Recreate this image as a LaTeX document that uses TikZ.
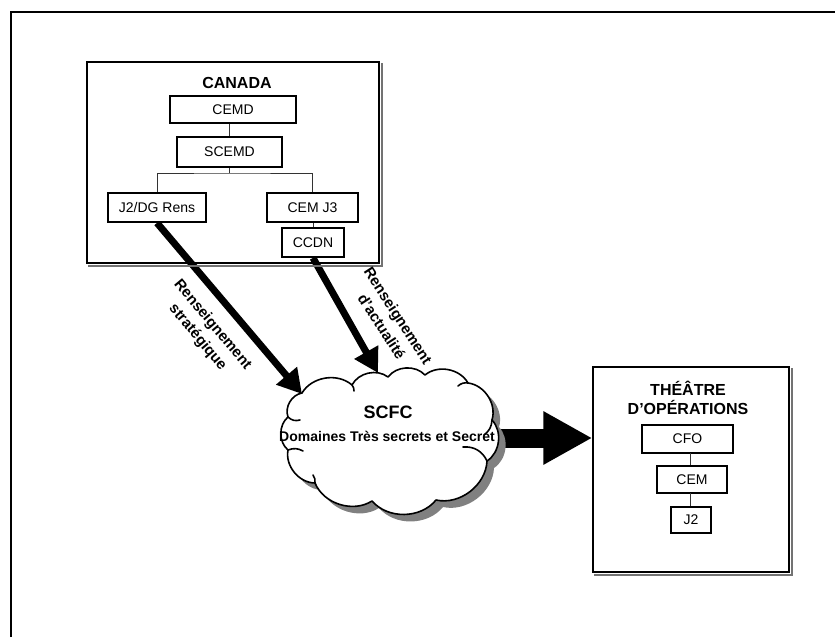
\documentclass[tikz,border=0pt]{standalone}
\usepackage{fontspec}
\setmainfont{Liberation Sans}
\usetikzlibrary{arrows.meta,calc,backgrounds}

% outline of the SCFC cloud, traced bump by bump (clockwise)
\newcommand{\scfcoutline}{%
  (302,393) to[puffbend] (352,385) to[puffbend] (388,377)
  to[puffbend] (425,375) to[puffbend] (468,383) to[puffbend] (492,420)
  to[puffbend] (487,461) to[puffbend] (436,500) to[puffbend] (372,501)
  to[puffbend] (315,483) to[puffbend] (288,450) to[puffbend] (288,417)
  to[puffbend] (302,393) -- cycle}

\begin{document}
\begin{tikzpicture}[x=1pt,y=-1pt,
  orgbox/.style={draw, line width=1.8pt, fill=white, inner sep=0pt,
    font=\fontsize{14}{16}\selectfont},
  panel/.style={draw, line width=1.4pt, inner sep=0pt},
  panelshade/.style={draw=black!55, line width=1.6pt},
  link/.style={line width=0.8pt, draw=black!80},
  feed/.style={line width=7pt, -{Triangle[length=24pt,width=26pt]}},
  bigfeed/.style={line width=19pt, -{Triangle[length=49pt,width=50pt]}},
  tag/.style={font=\bfseries\fontsize{15}{19.5}\selectfont, align=center, inner sep=0pt},
  ttl/.style={font=\bfseries\fontsize{16}{18}\selectfont, inner sep=0pt},
  puffbend/.style={bend left=50, looseness=0.97},
  puffline/.style={line width=1.6pt, line cap=round},
]
\useasboundingbox (0,0) rectangle (835,637);

% outer frame (open on the right and at the bottom)
\draw[line width=2pt] (11,637) -- (11,12) -- (835,12);

% ---------- CANADA panel ----------
\node[panel, minimum width=292pt, minimum height=201pt] (canada) at (233,162.5) {};
\draw[panelshade] ($(canada.north east)+(2,2)$) -- ($(canada.south east)+(2,2)$)
  -- ($(canada.south west)+(2,2)$);
\node[ttl] (canadat) at (237,82.5) {CANADA};

\node[orgbox, minimum width=126pt, minimum height=27pt] (cemd) at (233,109.5) {CEMD};
\node[orgbox, minimum width=105pt, minimum height=30pt] (scemd) at (229.5,152) {SCEMD};
\node[orgbox, minimum width=98pt, minimum height=29pt] (j2dg) at (157,207.5) {J2/DG Rens};
\node[orgbox, minimum width=91pt, minimum height=29pt] (cemj3) at (312.5,207.5) {CEM J3};
\node[orgbox, minimum width=62pt, minimum height=29pt] (ccdn) at (313,242.5) {CCDN};

\coordinate (bus) at (229.5,173);
\draw[link] (cemd.south -| scemd.north) -- (scemd.north);
\draw[link] (scemd.south) -- (bus);
\draw[link] (j2dg.north) |- (bus) -| (cemj3.north);
\draw[link] (cemj3.south -| ccdn.north) -- (ccdn.north);

% ---------- THEATRE panel ----------
\node[panel, minimum width=196pt, minimum height=205pt] (theatre) at (691,469.5) {};
\draw[panelshade] ($(theatre.north east)+(2,2)$) -- ($(theatre.south east)+(2,2)$)
  -- ($(theatre.south west)+(2,2)$);
\node[ttl, anchor=base] (theatret1) at (688,395) {THÉÂTRE};
\node[ttl, anchor=base] (theatret2) at (688,414) {D’OPÉRATIONS};

\node[orgbox, minimum width=91pt, minimum height=28pt] (cfo) at (687.5,439) {CFO};
\node[orgbox, minimum width=70pt, minimum height=27pt] (cem) at (692,479.5) {CEM};
\node[orgbox, minimum width=40pt, minimum height=26pt] (j2) at (691,520) {J2};
\draw[link] (690,453) coordinate (cfob) -- (cfob |- cem.north);
\draw[link] (690,493) coordinate (cemb) -- (cemb |- j2.north);

% ---------- SCFC cloud ----------
\coordinate (cloudc) at (390,438);
\coordinate (tipA) at (302,394);
\coordinate (tipB) at (378,373);
\begin{scope}[on background layer]
  \draw[bigfeed] (cloudc) -- (cloudc -| theatre.west);
  \draw[feed] (j2dg.south) -- (tipA);
  \draw[feed] (ccdn.south) -- (tipB);
\end{scope}

\begin{scope}[shift={(7,7)}]
  \fill[black!50] \scfcoutline;
\end{scope}
\filldraw[puffline, fill=white, line join=round] \scfcoutline;
% inner folds of the cloud
\draw[puffline] (288,417) to[bend right=30] (300,420);
\draw[puffline] (288,450) to[bend left=25] (303,451);
\draw[puffline] (315,483) to[bend right=20] (313,475);
\draw[puffline] (487,461) to[bend right=35] (463,447);
\draw[puffline] (492,420) to[bend left=25] (484,435);
\draw[puffline] (468,383) to[bend right=25] (458,386);
\draw[puffline] (352,385) to[bend left=20] (354,391);

\node[font=\bfseries\fontsize{18}{20}\selectfont, inner sep=0pt] (scfct) at (388,412) {SCFC};
\node[font=\bfseries\fontsize{14}{16}\selectfont, inner sep=0pt] (scfcs) at (387,436)
  {Domaines Très secrets et Secret};

% ---------- flow labels ----------
\node[tag, rotate=-50] (lblA) at (205,331) {Renseignement\\stratégique};
\node[tag, rotate=-57] (lblB) at (390,321) {Renseignement\\d’actualité};

\end{tikzpicture}
\end{document}
